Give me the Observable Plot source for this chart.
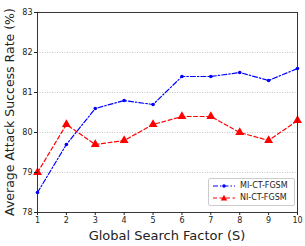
<!DOCTYPE html>
<html><head><meta charset="utf-8">
<script src="https://cdn.jsdelivr.net/npm/d3@7"></script>
<script src="https://cdn.jsdelivr.net/npm/@observablehq/plot@0.6"></script>
<style>
body{margin:0;background:#fff;font-family:"DejaVu Sans",sans-serif}
#wrap{position:relative;width:305px;height:246px}
#legend{position:absolute;left:208px;top:178px;width:87px;height:28px;border:1px solid #ccc;border-radius:2px;background:#fff;font-size:8px;padding:1px 0 0 0;box-sizing:border-box;color:#222}
#legend .row{display:flex;align-items:center;height:12px;line-height:12px}
#legend svg{display:block;margin:0 5px 0 4px;flex:none}
</style></head><body>
<div id="wrap"></div>
<script>
const factors = [1,2,3,4,5,6,7,8,9,10];
const miValues = [78.5,79.7,80.6,80.8,80.7,81.4,81.4,81.5,81.3,81.6];
const niValues = [79.0,80.2,79.7,79.8,80.2,80.4,80.4,80.0,79.8,80.3];
const yTicks = [78,79,80,81,82,83];
const seriesNames = ["MI-CT-FGSM","NI-CT-FGSM"];

const mi = factors.map((s,i)=>({s, v: miValues[i]}));
const ni = factors.map((s,i)=>({s, v: niValues[i]}));

const chart = Plot.plot({
  width: 305, height: 246,
  marginLeft: 37, marginRight: 8, marginTop: 12, marginBottom: 34,
  style: {fontFamily: "DejaVu Sans, sans-serif", fontSize: "8px", color: "#222", background: "#fff"},
  x: {domain: [1,10], label: null},
  y: {domain: [78,83], label: null},
  marks: [
    Plot.gridY(yTicks.slice(1,-1), {stroke: "#aaa", strokeOpacity: 1, strokeDasharray: "1,1.5", strokeWidth: 0.7}),
    Plot.line(ni, {x: "s", y: "v", stroke: "#ff0000", strokeWidth: 1.2, strokeDasharray: "4,2.5"}),
    Plot.dot(ni, {x: "s", y: "v", fill: "#ff0000", symbol: "triangle", r: 3.3}),
    Plot.line(mi, {x: "s", y: "v", stroke: "#0000ff", strokeWidth: 1.2, strokeDasharray: "5,2,1.5,2"}),
    Plot.dot(mi, {x: "s", y: "v", fill: "#0000ff", r: 1.8}),
    Plot.frame({stroke: "#222", strokeWidth: 0.9}),
    Plot.axisX({ticks: factors, tickFormat: d3.format("d"), tickSize: 3, tickPadding: 2, label: null}),
    Plot.axisY({ticks: yTicks, tickFormat: d3.format("d"), tickSize: 3, tickPadding: 2, label: null})
  ]
});
const wrap = document.getElementById("wrap");
wrap.appendChild(chart);

const ns = "http://www.w3.org/2000/svg";
const xl = document.createElementNS(ns, "text");
xl.setAttribute("x", 167); xl.setAttribute("y", 240);
xl.setAttribute("text-anchor", "middle"); xl.setAttribute("font-size", "13px");
xl.setAttribute("fill", "#222");
xl.textContent = "Global Search Factor (S)";
chart.appendChild(xl);
const yl = document.createElementNS(ns, "text");
yl.setAttribute("transform", "translate(14,112) rotate(-90)");
yl.setAttribute("text-anchor", "middle"); yl.setAttribute("font-size", "12.5px");
yl.setAttribute("fill", "#222");
yl.textContent = "Average Attack Success Rate (%)";
chart.appendChild(yl);

const lg = document.createElement("div");
lg.id = "legend";
lg.innerHTML =
 `<div class="row"><svg width="22" height="8"><line x1="0" y1="4" x2="22" y2="4" stroke="#0000ff" stroke-width="1.2" stroke-dasharray="5,2,1.5,2"/><circle cx="11" cy="4" r="1.8" fill="#0000ff"/></svg><span>${seriesNames[0]}</span></div>` +
 `<div class="row"><svg width="22" height="8"><line x1="0" y1="4" x2="22" y2="4" stroke="#ff0000" stroke-width="1.2" stroke-dasharray="4,2.5"/><path d="M11,0.7L14.2,6.5L7.8,6.5Z" fill="#ff0000"/></svg><span>${seriesNames[1]}</span></div>`;
wrap.appendChild(lg);
</script>
</body></html>
